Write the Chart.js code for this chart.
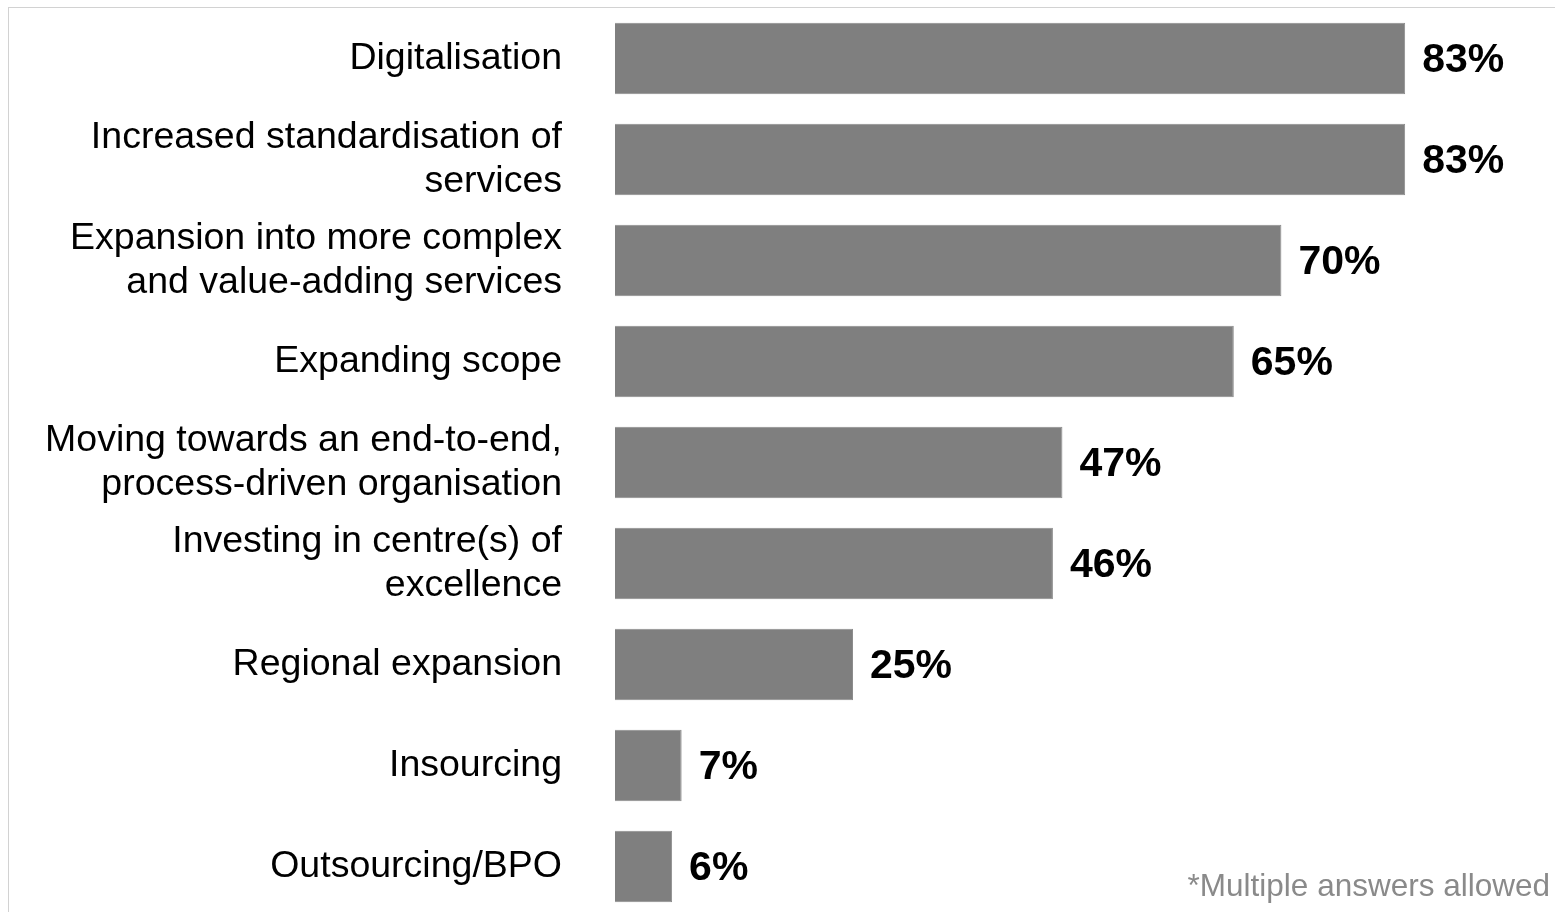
<!DOCTYPE html>
<html>
<head>
<meta charset="utf-8">
<script src="https://cdn.jsdelivr.net/npm/chart.js@4"></script>
<style>
html, body { margin: 0; padding: 0; background: #fff; width: 1555px; height: 912px; overflow: hidden; }
#wrap { position: relative; width: 1555px; height: 912px; overflow: hidden; }
#frame { position: absolute; left: 8px; top: 7px; width: 1600px; height: 1000px; border-top: 1px solid #d2d2d2; border-left: 1px solid #d2d2d2; }
#chart { position: absolute; left: 0; top: 0; }
#note { position: absolute; right: 5px; top: 867px; font-family: "Liberation Sans", Arial, sans-serif; font-size: 31.5px; color: #8a8a8a; white-space: nowrap; }
</style>
</head>
<body>
<div id="wrap">
  <div id="frame"></div>
  <canvas id="chart" width="1570" height="920"></canvas>
  <div id="note">*Multiple answers allowed</div>
</div>
<script>
var CATEGORIES = [
    'Digitalisation',
    ['Increased standardisation of', 'services'],
    ['Expansion into more complex', 'and value-adding services'],
    'Expanding scope',
    ['Moving towards an end-to-end,', 'process-driven organisation'],
    ['Investing in centre(s) of', 'excellence'],
    'Regional expansion',
    'Insourcing',
    'Outsourcing/BPO'
];
var SHARES = [83, 83, 70, 65, 47, 46, 25, 7, 6];

var FONT = '"Liberation Sans", Arial, sans-serif';

// percent labels to the right of each bar
var valueLabels = {
    id: 'valueLabels',
    afterDatasetsDraw: function(chart) {
        var ctx = chart.ctx;
        var meta = chart.getDatasetMeta(0);
        ctx.save();
        ctx.font = 'bold 41px ' + FONT;
        ctx.fillStyle = '#000';
        ctx.textAlign = 'left';
        ctx.textBaseline = 'middle';
        meta.data.forEach(function(bar, i) {
            ctx.fillText(SHARES[i] + '%', bar.x + 17, bar.y + 2);
        });
        ctx.restore();
    }
};

var ctx = document.getElementById('chart').getContext('2d');
var chart = new Chart(ctx, {
    type: 'bar',
    data: {
        labels: CATEGORIES,
        datasets: [{
            data: SHARES,
            backgroundColor: '#7f7f7f',
            borderColor: '#8c8c8c',
            borderWidth: 1,
            categoryPercentage: 1,
            barPercentage: 0.71
        }]
    },
    options: {
        indexAxis: 'y',
        responsive: false,
        animation: false,
        layout: { padding: { top: 8, bottom: 3, right: 3, left: 0 } },
        plugins: {
            legend: { display: false },
            tooltip: { enabled: false }
        },
        scales: {
            x: {
                display: false,
                min: 0,
                max: 100
            },
            y: {
                grid: { display: false },
                border: { display: false },
                ticks: {
                    padding: 45,
                    color: '#000',
                    font: { family: FONT, size: 37.5, lineHeight: 1.16 }
                },
                afterFit: function(scale) {
                    scale.width = 615;
                    scale.paddingTop = 0;
                    scale.paddingBottom = 0;
                }
            }
        }
    },
    plugins: [valueLabels]
});
</script>
</body>
</html>
